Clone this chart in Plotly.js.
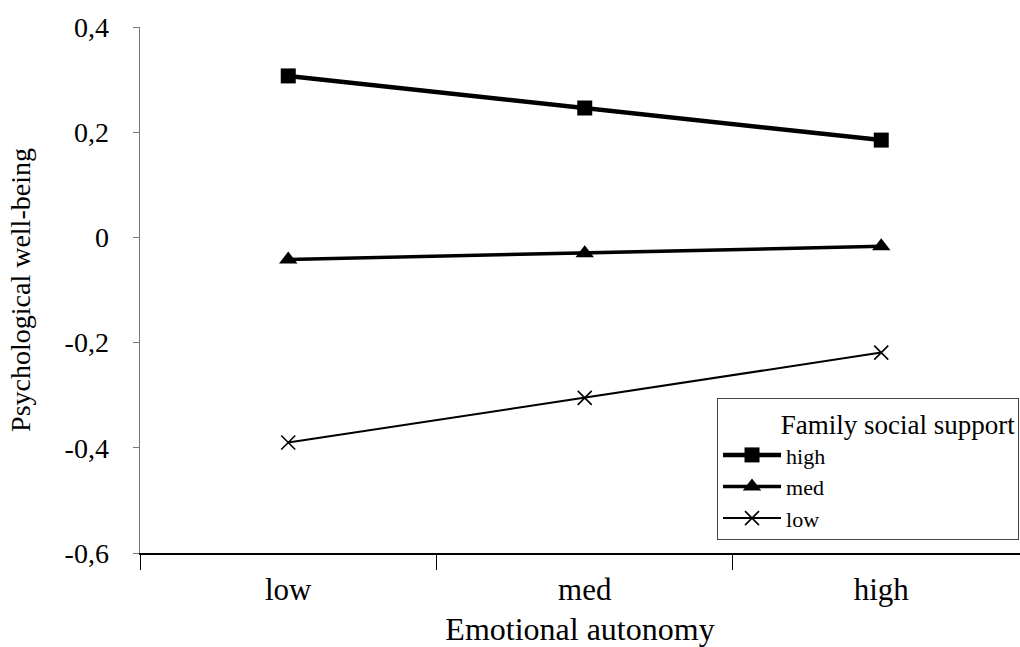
<!DOCTYPE html>
<html>
<head>
<meta charset="utf-8">
<script src="https://cdn.plot.ly/plotly-3.0.1.min.js"></script>
<style>html,body{margin:0;padding:0;background:#fff;}#chart{width:1020px;height:647px;}</style>
</head>
<body>
<div id="chart"></div>
<script>
var categories = ["low", "med", "high"];
var seriesNames = ["high", "med", "low"];
var highValues = [0.307, 0.246, 0.185];
var medValues = [-0.042, -0.030, -0.017];
var lowValues = [-0.390, -0.305, -0.219];
var yTickVals = [0.4, 0.2, 0, -0.2, -0.4, -0.6];
var yTickText = ["0,4", "0,2", "0", "-0,2", "-0,4", "-0,6"];
var legendTitle = "Family social support";

var font = "Liberation Serif";

var traces = [
  {x: categories, y: highValues, name: seriesNames[0], type: "scatter", mode: "lines+markers",
   line: {color: "#000", width: 4.5}, marker: {symbol: "square", size: 15, color: "#000"}},
  {x: categories, y: medValues, name: seriesNames[1], type: "scatter", mode: "lines+markers",
   line: {color: "#000", width: 3.5}, marker: {symbol: "triangle-up", size: 16, color: "#000"}},
  {x: categories, y: lowValues, name: seriesNames[2], type: "scatter", mode: "lines+markers",
   line: {color: "#000", width: 2}, marker: {symbol: "x-thin", size: 14, color: "#000", line: {color: "#000", width: 1.6}}}
];

var layout = {
  width: 1020, height: 647,
  margin: {l: 140, r: 0, t: 27, b: 94, pad: 0},
  paper_bgcolor: "#fff", plot_bgcolor: "#fff",
  font: {family: font, color: "#000", size: 28},
  showlegend: true,
  legend: {
    x: 0.6557, xanchor: "left", y: 0.0247, yanchor: "bottom",
    bordercolor: "#444", borderwidth: 1, bgcolor: "#fff",
    font: {family: font, size: 22, color: "#000"},
    title: {text: "\u00a0\u00a0\u00a0\u00a0\u00a0\u00a0\u00a0\u00a0\u00a0" + legendTitle, font: {family: font, size: 27, color: "#000"}},
    itemwidth: 58, tracegroupgap: 0
  },
  xaxis: {
    type: "category", range: [-0.5, 2.468], showgrid: false, zeroline: false,
    showline: true, linecolor: "#000", linewidth: 1.5,
    ticks: "outside", tickson: "boundaries", ticklen: 15, tickcolor: "#000", tickwidth: 1,
    ticklabelstandoff: 8,
    tickfont: {family: font, size: 31, color: "#000"},
    title: {text: "Emotional autonomy", font: {family: font, size: 32, color: "#000"}, standoff: 13},
    fixedrange: true
  },
  yaxis: {
    range: [-0.6, 0.4], showgrid: false, zeroline: false,
    showline: true, linecolor: "#777", linewidth: 1.5,
    tickmode: "array", tickvals: yTickVals, ticktext: yTickText,
    ticks: "outside", ticklen: 6, tickcolor: "#777", tickwidth: 1,
    ticklabelstandoff: 18,
    tickfont: {family: font, size: 28, color: "#000"},
    title: {text: "Psychological well-being", font: {family: font, size: 28, color: "#000"}, standoff: 26},
    fixedrange: true
  }
};

Plotly.newPlot("chart", traces, layout, {displayModeBar: false, staticPlot: true});
</script>
</body>
</html>
